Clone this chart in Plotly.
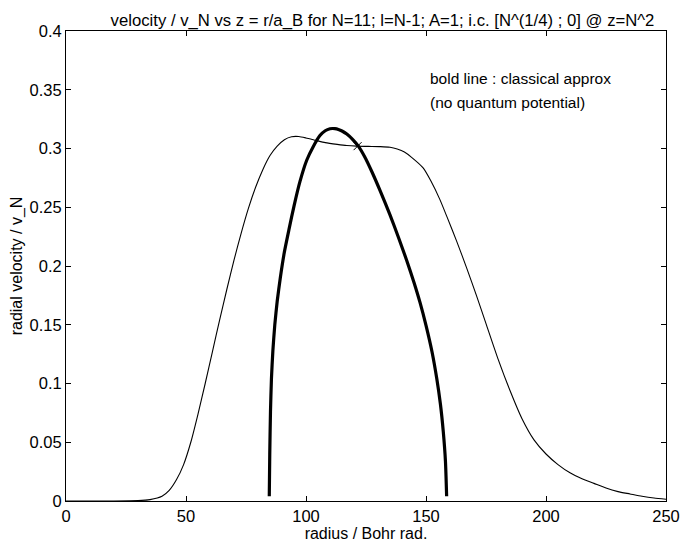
import plotly.graph_objects as go

# Full (quantum) solution - thin line
thin_x = [0, 10, 20, 30, 35, 40, 43, 46, 49, 52, 55, 58, 61, 64, 67, 70, 73, 76, 79, 82, 85, 88,
          91, 94, 97, 100, 104, 108, 113, 117, 121, 126, 131, 135, 138, 141, 144, 148.8, 152,
          155.8, 159, 162.8, 167, 171, 175, 180, 185, 190, 195, 200, 205, 210, 215, 220, 225,
          230, 235, 240, 245, 250]
thin_y = [0, 0, 0, 0.0003, 0.0012, 0.004, 0.009, 0.018, 0.031, 0.050, 0.074, 0.100, 0.127,
          0.154, 0.180, 0.205, 0.228, 0.249, 0.267, 0.282, 0.294, 0.302, 0.3075, 0.310, 0.3102,
          0.309, 0.307, 0.305, 0.3035, 0.3025, 0.302, 0.3018, 0.3016, 0.301, 0.2995, 0.297,
          0.2925, 0.2835, 0.2725, 0.2565, 0.2405, 0.221, 0.198, 0.175, 0.151, 0.121, 0.094,
          0.070, 0.052, 0.040, 0.031, 0.024, 0.019, 0.015, 0.011, 0.008, 0.006, 0.004, 0.0025,
          0.0015]

# Classical approximation - bold line
bold_x = [84.7, 84.9, 85.2, 85.6, 86.2, 87, 88, 89.3, 91, 93, 95, 97.5, 100.3, 103, 105.8,
          108, 110, 111, 112, 113.5, 115, 117, 119.5, 121.8, 124.5, 127.5, 131, 135, 138.5, 142,
          145, 147.5, 150, 152.5, 154.5, 156, 157.2, 158.1, 158.6]
bold_y = [0.004, 0.040, 0.076, 0.104, 0.128, 0.150, 0.170, 0.190, 0.212, 0.232, 0.251, 0.272,
          0.290, 0.3015, 0.311, 0.3151, 0.3168, 0.317, 0.3169, 0.3162, 0.3149, 0.3123, 0.3076,
          0.302, 0.2928, 0.280, 0.2635, 0.2435, 0.2245, 0.2045, 0.186, 0.169, 0.1495, 0.127,
          0.104, 0.0825, 0.059, 0.034, 0.004]

# initial condition marker
ic_x = [121.5]
ic_y = [0.302]

x_ticks = [0, 50, 100, 150, 200, 250]
y_ticks = [0, 0.05, 0.1, 0.15, 0.2, 0.25, 0.3, 0.35, 0.4]
y_tick_text = ["0", "0.05", "0.1", "0.15", "0.2", "0.25", "0.3", "0.35", "0.4"]

FONT = "Liberation Sans, Arial, Helvetica, sans-serif"

fig = go.Figure()
fig.add_trace(go.Scatter(x=thin_x, y=thin_y, mode="lines",
                         line=dict(color="black", width=1.1, shape="spline", smoothing=0.6),
                         hoverinfo="skip", showlegend=False))
fig.add_trace(go.Scatter(x=bold_x, y=bold_y, mode="lines",
                         line=dict(color="black", width=3.2, shape="spline", smoothing=0.6),
                         hoverinfo="skip", showlegend=False))
fig.add_trace(go.Scatter(x=ic_x, y=ic_y, mode="markers",
                         marker=dict(symbol="x-thin", size=8, line=dict(color="black", width=1)),
                         hoverinfo="skip", showlegend=False))

fig.update_layout(
    width=692, height=546,
    margin=dict(l=58, r=34, t=23, b=53),
    paper_bgcolor="white", plot_bgcolor="white",
    font=dict(family=FONT, size=16, color="black"),
    title=dict(text="velocity / v_N vs z = r/a_B for N=11; l=N-1; A=1; i.c. [N^(1/4) ; 0] @ z=N^2",
               x=374.5 / 692, xanchor="center", xref="container",
               y=1 - 12 / 546, yanchor="middle", yref="container",
               font=dict(family=FONT, size=16.7, color="black")),
    xaxis=dict(range=[0, 250], tickvals=x_ticks, ticks="inside", ticklen=5,
               tickcolor="black", showline=True, linecolor="black", linewidth=1,
               mirror="ticks", showgrid=False, zeroline=False, automargin=False,
               tickfont=dict(size=16.5),
               title=dict(text="radius / Bohr rad.", standoff=0, font=dict(size=16))),
    yaxis=dict(range=[0, 0.4], tickvals=y_ticks, ticktext=y_tick_text, ticks="inside",
               ticklen=5, tickcolor="black", showline=True, linecolor="black", linewidth=1,
               mirror="ticks", showgrid=False, zeroline=False, automargin=False,
               tickfont=dict(size=16.5),
               title=dict(text="radial velocity / v_N", standoff=2, font=dict(size=16))),
)

fig.add_annotation(text="bold line : classical approx", x=(428 - 66) / 2.4, y=(501 - 78) / 1175,
                   xref="x", yref="y", xanchor="left", yanchor="middle", showarrow=False,
                   font=dict(size=15.5))
fig.add_annotation(text="(no quantum potential)", x=(428 - 66) / 2.4, y=(501 - 102.5) / 1175,
                   xref="x", yref="y", xanchor="left", yanchor="middle", showarrow=False,
                   font=dict(size=15.5))

fig.write_html("out.html")
